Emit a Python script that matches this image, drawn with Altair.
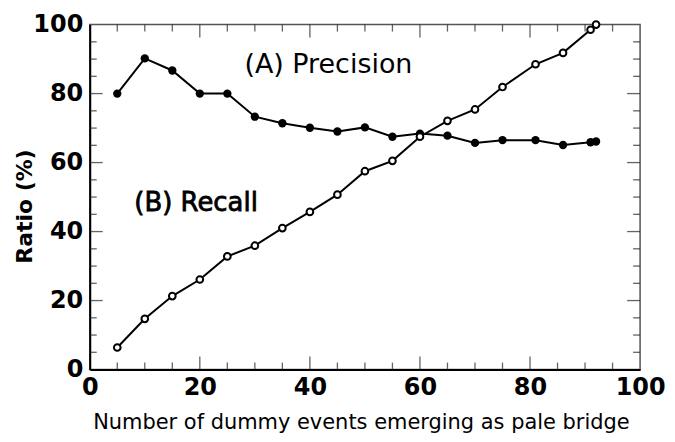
import altair as alt
import pandas as pd

# ---- data ----
x_events = [5, 10, 15, 20, 25, 30, 35, 40, 45, 50, 55, 60, 65, 70, 75, 81, 86, 91, 92]
precision = [80.0, 90.2, 86.7, 80.0, 80.0, 73.3, 71.4, 70.1, 69.0, 70.2, 67.5, 68.4,
             67.8, 65.7, 66.5, 66.5, 65.1, 65.9, 66.1]
recall = [6.4, 14.7, 21.3, 26.1, 32.8, 35.9, 41.0, 45.7, 50.7, 57.5, 60.5, 67.5,
          72.1, 75.4, 81.9, 88.5, 91.8, 98.5, 100.0]

label_values = [0, 20, 40, 60, 80, 100]
major_ticks = [20, 40, 60, 80]
minor_ticks = [5, 10, 15, 25, 30, 35, 45, 50, 55, 65, 70, 75, 85, 90, 95]

ann_text = ["(A) Precision", "(B) Recall"]
ann_x = [28.1, 8.1]
ann_y = [88.3, 48.3]

FONT = "DejaVu Sans"
W, H = 552, 346

df = pd.DataFrame({"x": x_events, "precision": precision, "recall": recall})
df_major = pd.DataFrame({"v": major_ticks})
df_minor = pd.DataFrame({"v": minor_ticks})
df_a = pd.DataFrame({"t": ann_text[:1], "x": ann_x[:1], "y": ann_y[:1]})
df_b = pd.DataFrame({"t": ann_text[1:], "x": ann_x[1:], "y": ann_y[1:]})

xs = alt.Scale(domain=[0, 100], nice=False, zero=False)
ys = alt.Scale(domain=[0, 100], nice=False, zero=False)

x_axis = alt.Axis(values=label_values, ticks=False, tickSize=0, grid=False,
                  domainColor="black", domainWidth=2,
                  labelFont=FONT, labelFontWeight="bold", labelFontSize=24,
                  labelColor="black", labelPadding=6, labelFlush=False,
                  title="Number of dummy events emerging as pale bridge",
                  titleFont=FONT, titleFontSize=21, titleFontWeight="normal",
                  titleColor="black", titleX=272, titleY=53, titleBaseline="middle")
y_axis = alt.Axis(values=label_values, ticks=False, tickSize=0, grid=False,
                  domainColor="black", domainWidth=2,
                  labelFont=FONT, labelFontWeight="bold", labelFontSize=24,
                  labelColor="black", labelPadding=7, labelFlush=False,
                  title="Ratio (%)",
                  titleFont=FONT, titleFontSize=22, titleFontWeight="bold",
                  titleColor="black", titleX=-65, titleY=182, titleBaseline="middle")


def X(field=None, datum=None):
    if datum is not None:
        return alt.X(datum=datum, scale=xs, axis=x_axis)
    return alt.X(field, type="quantitative", scale=xs, axis=x_axis)


def Y(field=None, datum=None):
    if datum is not None:
        return alt.Y(datum=datum, scale=ys, axis=y_axis)
    return alt.Y(field, type="quantitative", scale=ys, axis=y_axis)


base = alt.Chart(df)

prec_line = base.mark_line(color="black", strokeWidth=2).encode(x=X("x"), y=Y("precision"))
rec_line = base.mark_line(color="black", strokeWidth=2).encode(x=X("x"), y=Y("recall"))
prec_pts = base.mark_point(shape="circle", filled=True, color="black", size=70,
                           opacity=1).encode(x=X("x"), y=Y("precision"))
rec_pts = base.mark_point(shape="circle", filled=True, fill="white", stroke="black",
                          strokeWidth=2, size=45, opacity=1).encode(x=X("x"), y=Y("recall"))


def ticks(df_t, side, length):
    half = length / 2
    if side in ("bottom", "top"):
        yv = 0 if side == "bottom" else 100
        off = -half if side == "bottom" else half
        return alt.Chart(df_t).mark_tick(orient="vertical", size=length, thickness=1.3,
                                         color="#222", yOffset=off).encode(
            x=X("v"), y=Y(datum=yv))
    xv = 0 if side == "left" else 100
    off = half if side == "left" else -half
    return alt.Chart(df_t).mark_tick(orient="horizontal", size=length, thickness=1.3,
                                     color="#222", xOffset=off).encode(
        y=Y("v"), x=X(datum=xv))


tick_layers = []
for side in ("bottom", "top", "left", "right"):
    tick_layers.append(ticks(df_major, side, 13))
    tick_layers.append(ticks(df_minor, side, 7))

text_a = alt.Chart(df_a).mark_text(align="left", baseline="middle", font=FONT,
                                   fontSize=27, fontWeight="normal", color="black").encode(
    x=X("x"), y=Y("y"), text="t:N")
text_b = alt.Chart(df_b).mark_text(align="left", baseline="middle", font=FONT,
                                   fontSize=26, fontWeight="normal", color="black",
                                   stroke="black", strokeWidth=0.8).encode(
    x=X("x"), y=Y("y"), text="t:N")

chart = alt.layer(prec_line, rec_line, *tick_layers, prec_pts, rec_pts, text_a, text_b).properties(
    width=W, height=H,
    autosize=alt.AutoSizeParams(type="none"),
    padding={"left": 82, "top": 16, "right": 27, "bottom": 64},
    background="white",
).configure_view(stroke="#555", strokeWidth=1.5)

chart.save("out.html", embed_options={"renderer": "svg", "actions": False})
